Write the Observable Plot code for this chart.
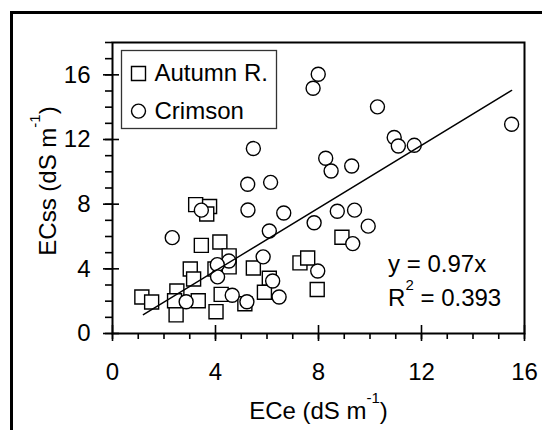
<!DOCTYPE html>
<html><head><meta charset="utf-8">
<script src="https://cdn.jsdelivr.net/npm/d3@7"></script>
<script src="https://cdn.jsdelivr.net/npm/@observablehq/plot@0.6"></script>
<style>
body{margin:0;background:#fff;}
#wrap{position:relative;width:542px;height:430px;overflow:hidden;}
#wrap svg{position:absolute;left:0;top:0;}
#border{position:absolute;left:9.5px;top:11px;width:600px;height:500px;border-left:3px solid #000;border-top:3px solid #000;pointer-events:none;}
</style></head><body><div id="wrap"><div id="border"></div></div>
<script>
// Autumn R. (squares)
const autumnECe  = [3.23,3.77,3.66,3.45,4.17,4.53,4.53,3.98,3.02,3.15,5.47,6.09,5.90,4.22,2.50,2.41,3.33,1.14,1.52,2.47,4.02,5.14,7.28,7.58,7.95,8.91];
const autumnECss = [7.97,7.86,7.39,5.45,5.66,4.80,4.12,3.99,3.99,3.37,4.05,3.42,2.55,2.42,2.63,2.03,2.03,2.26,1.95,1.15,1.35,1.84,4.37,4.67,2.72,5.95];
// Crimson (circles)
const crimsonECe  = [7.99,7.79,10.29,15.50,10.94,11.10,11.72,5.47,8.28,8.49,9.29,5.25,6.14,5.26,3.45,6.65,8.73,9.40,7.83,9.93,6.09,2.32,9.33,5.85,4.52,4.07,7.97,4.08,6.22,4.65,6.47,2.86,5.22];
const crimsonECss = [16.04,15.17,14.02,12.94,12.12,11.60,11.64,11.44,10.84,10.05,10.36,9.23,9.35,7.64,7.63,7.45,7.56,7.63,6.85,6.64,6.34,5.93,5.56,4.74,4.48,4.26,3.87,3.50,3.25,2.37,2.26,1.96,1.96];
const seriesNames = ["Autumn R.", "Crimson"];
const xMajorTicks = [0, 4, 8, 12, 16];
const yMajorTicks = [0, 4, 8, 12, 16];
const xMinorTicks = [0,1,2,3,4,5,6,7,8,9,10,11,12,13,14,15,16];
const yMinorTicks = [0,1,2,3,4,5,6,7,8,9,10,11,12,13,14,15,16,17,18];
const fitSlope = 0.97;
const fitRange = [1.2, 15.5];
const fitLabel = "y = 0.97x";
const r2Label = "R^{2} = 0.393";
const xTitle = "ECe (dS m^{-1})";
const yTitle = "ECss (dS m^{-1})";

const autumn = autumnECe.map((x, i) => ({x, y: autumnECss[i]}));
const crimson = crimsonECe.map((x, i) => ({x, y: crimsonECss[i]}));
const font = "'Liberation Sans', Arial, Helvetica, sans-serif";
const FS = 24;
const sq = {symbol: "square", r: 7.9, stroke: "#000", fill: "#fff", strokeWidth: 1.4};
const ci = {symbol: "circle", r: 7, stroke: "#000", fill: "#fff", strokeWidth: 1.4};

const chart = Plot.plot({
  width: 542, height: 430,
  marginLeft: 112, marginRight: 18, marginTop: 42, marginBottom: 97,
  style: {fontFamily: font, fontSize: FS + "px", color: "#000", background: "transparent"},
  x: {domain: [0, 16]},
  y: {domain: [0, 18]},
  marks: [
    Plot.axisY(yMinorTicks, {tickSize: 7, tickFormat: () => "", label: null, strokeWidth: 1.6}),
    Plot.axisX(xMinorTicks, {tickSize: 6, tickFormat: () => "", label: null, strokeWidth: 1.6}),
    Plot.axisY(yMajorTicks, {tickSize: 16, dx: 7, tickPadding: 13, label: null, strokeWidth: 1.6, fontSize: FS}),
    Plot.axisX(xMajorTicks, {tickSize: 16, dy: -8, tickPadding: 21, label: null, strokeWidth: 1.6, fontSize: FS}),
    Plot.frame({stroke: "#000", strokeWidth: 2}),
    Plot.dot(autumn, {x: "x", y: "y", ...sq}),
    Plot.dot(crimson, {x: "x", y: "y", ...ci}),
    Plot.line(fitRange, {x: d => d, y: d => fitSlope * d, stroke: "#000", strokeWidth: 1.4}),
    // legend
    Plot.frame({insetLeft: 9, insetTop: 8, insetRight: 248, insetBottom: 205, stroke: "#333", strokeWidth: 1.3}),
    Plot.dot([seriesNames[0]], {frameAnchor: "top-left", dx: 26, dy: 31, ...sq}),
    Plot.text([seriesNames[0]], {frameAnchor: "top-left", dx: 42, dy: 30.6, text: d => d, textAnchor: "start", lineAnchor: "middle", fontSize: FS}),
    Plot.dot([seriesNames[1]], {frameAnchor: "top-left", dx: 26, dy: 68.6, ...ci}),
    Plot.text([seriesNames[1]], {frameAnchor: "top-left", dx: 42, dy: 68.6, text: d => d, textAnchor: "start", lineAnchor: "middle", fontSize: FS}),
    // regression annotation
    Plot.text([fitLabel], {frameAnchor: "bottom-left", dx: 275.6, dy: -68.7, text: d => d, textAnchor: "start", lineAnchor: "middle", fontSize: FS}),
    Plot.text([r2Label], {frameAnchor: "bottom-left", dx: 275.6, dy: -34.7, text: d => d, textAnchor: "start", lineAnchor: "middle", fontSize: FS}),
    // axis titles
    Plot.text([xTitle], {frameAnchor: "bottom", dy: 77.6, text: d => d, textAnchor: "middle", lineAnchor: "middle", fontSize: FS}),
    Plot.text([yTitle], {frameAnchor: "left", dx: -64.4, dy: -7, rotate: -90, text: d => d, textAnchor: "middle", lineAnchor: "middle", fontSize: FS})
  ]
});

// turn ^{...} into real superscript tspans
function supify(root) {
  root.querySelectorAll("text").forEach(t => {
    const s = t.textContent;
    if (!s.includes("^{")) return;
    while (t.firstChild) t.removeChild(t.firstChild);
    const ns = "http://www.w3.org/2000/svg";
    const re = /\^\{([^}]*)\}/g;
    let last = 0, m, raised = false;
    const add = (str, sup) => {
      const ts = document.createElementNS(ns, "tspan");
      ts.textContent = str;
      if (sup) { ts.setAttribute("font-size", "15"); ts.setAttribute("dy", "-16"); raised = true; }
      else if (raised) { ts.setAttribute("dy", "16"); raised = false; }
      t.appendChild(ts);
    };
    while ((m = re.exec(s))) {
      if (m.index > last) add(s.slice(last, m.index), false);
      add(m[1], true);
      last = re.lastIndex;
    }
    if (last < s.length) add(s.slice(last), false);
  });
}
supify(chart);
document.getElementById("wrap").prepend(chart);
</script>
</body></html>
